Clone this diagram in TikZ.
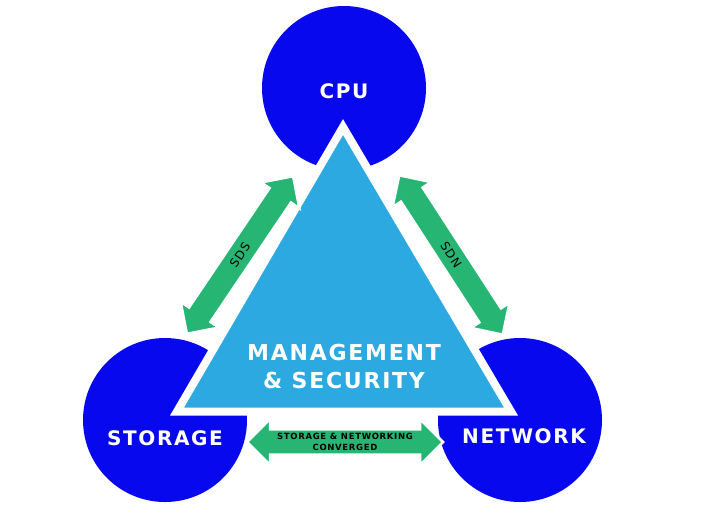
\documentclass[tikz,border=0pt]{standalone}
\usepackage{fontspec}
\setmainfont{DejaVu Sans}
\newfontfamily\widefont[LetterSpace=8]{DejaVu Sans}
\usetikzlibrary{shapes.arrows}
\definecolor{hubblue}{RGB}{8,8,238}
\definecolor{coreblue}{RGB}{44,169,225}
\definecolor{linkgreen}{RGB}{39,181,115}
\begin{document}
\begin{tikzpicture}[x=1pt,y=-1pt,
    hub/.style={circle,fill=hubblue,minimum size=164pt,inner sep=0pt},
    hubtext/.style={text=white,font=\widefont\bfseries\fontsize{20}{22}\selectfont},
    link/.style={double arrow,fill=linkgreen,draw=white,line width=2.5pt,
      minimum width=46pt,double arrow head extend=10pt,inner xsep=1pt,inner ysep=7pt,
      font=\widefont\fontsize{12}{13}\selectfont,align=center}]
    \useasboundingbox (0,0) rectangle (708,531);
    % three hubs
    \node[hub] (cpu) at (344,88) {};
    \node[hub] (sto) at (165,420) {};
    \node[hub] (net) at (520,420) {};
    % core triangle
    \filldraw[fill=coreblue,draw=white,line width=8pt,line join=miter]
      (343,127) -- (511,411.5) -- (177,411.5) -- cycle;
    \node[text=white,align=center,font=\widefont\bfseries\fontsize{22}{28}\selectfont] (core) at (344,366)
      {MANAGEMENT\\\& SECURITY};
    \node[hubtext] (cputxt) at (344,91) {CPU};
    \node[hubtext] (stotxt) at (165,438) {STORAGE};
    \node[hubtext] (nettxt) at (524,436) {NETWORK};
    % links
    \node[link,minimum height=190pt,rotate=56] (sds) at (240,255) {SDS};
    \node[link,minimum height=190pt,rotate=-57] (sdn) at (451,255) {SDN};
    \node[link,minimum height=196pt,inner ysep=2.5pt,font=\widefont\bfseries\fontsize{8.5}{10.5}\selectfont] (conv) at (345,442)
      {STORAGE \& NETWORKING\\CONVERGED};
\end{tikzpicture}
\end{document}
